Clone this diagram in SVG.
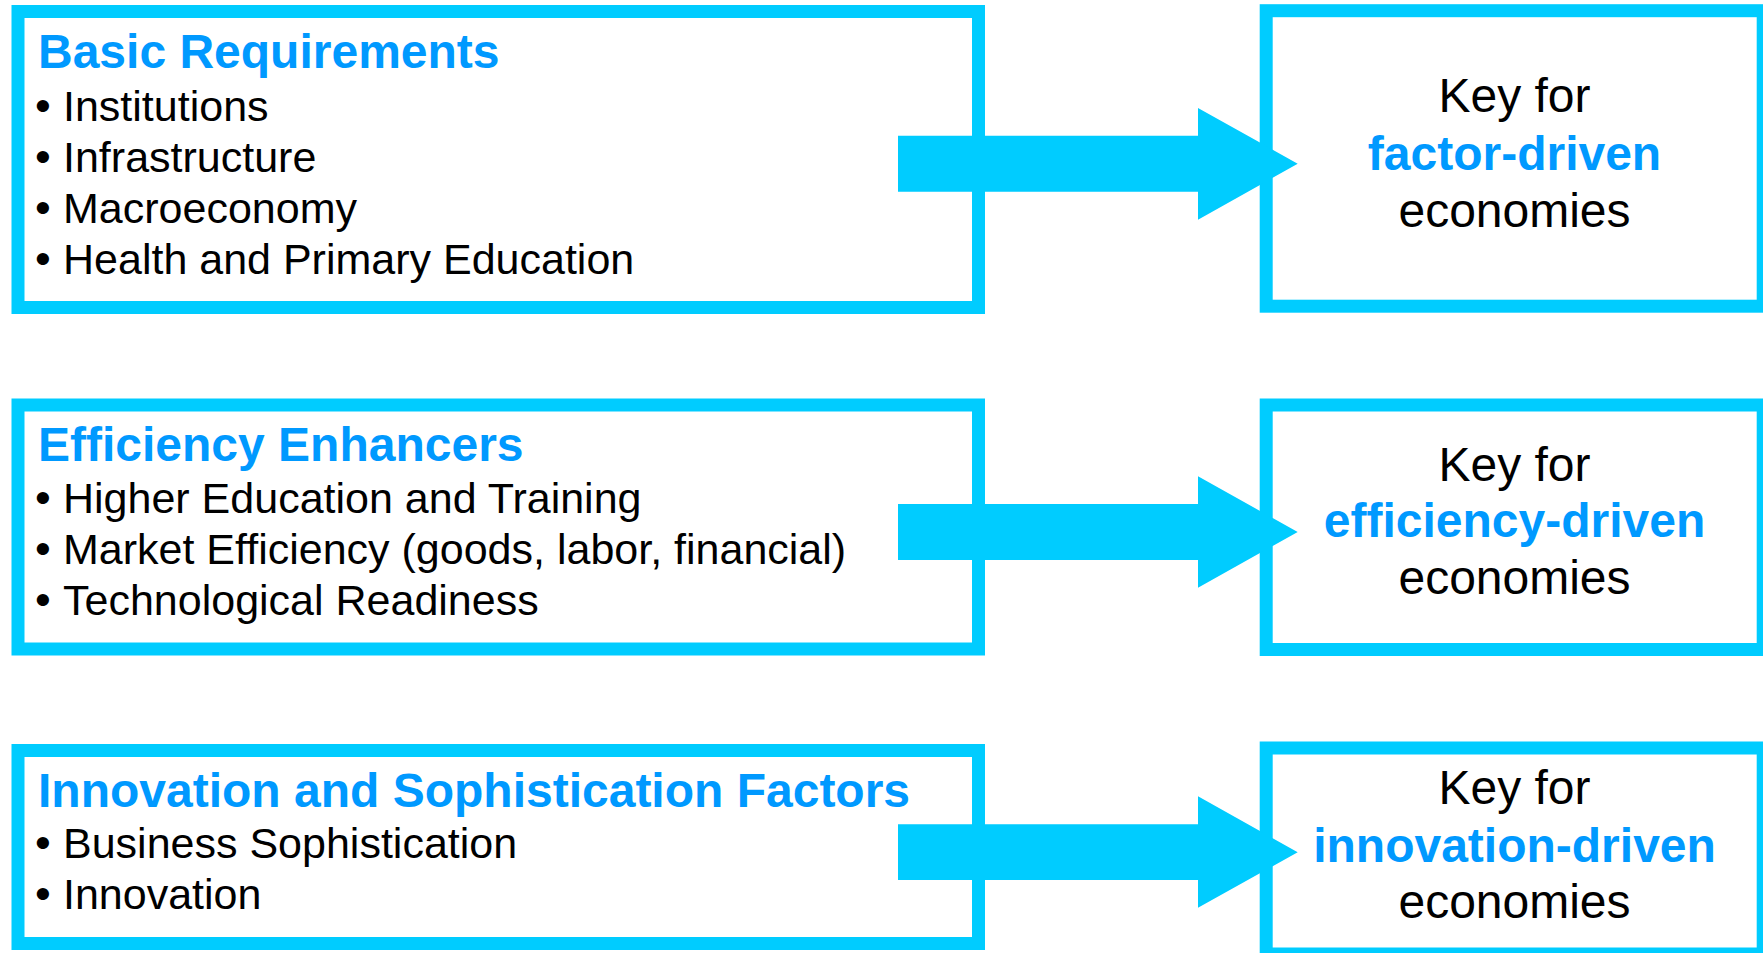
<svg xmlns="http://www.w3.org/2000/svg" width="1763" height="953" viewBox="0 0 1763 953">
<style>
  .box { fill: #ffffff; stroke: #00ccff; stroke-width: 13; }
  .arrow { fill: #00ccff; stroke: none; }
  .title { font-family: "Liberation Sans", Arial, sans-serif; font-weight: bold; font-size: 48px; fill: #0099ff; }
  .item { font-family: "Liberation Sans", Arial, sans-serif; font-size: 43px; fill: #000000; }
  .b { font-size: 45px; }
  .key { font-family: "Liberation Sans", Arial, sans-serif; font-size: 48px; fill: #000000; text-anchor: middle; }
  .keyb { font-family: "Liberation Sans", Arial, sans-serif; font-size: 48px; font-weight: bold; fill: #0099ff; text-anchor: middle; }
</style>

<g id="basic-requirements">
  <rect class="box" x="18" y="11.5" width="960.5" height="296"/>
  <text class="title" x="38" y="67.7">Basic Requirements</text>
  <text class="item" y="121"><tspan class="b" x="35">•</tspan><tspan x="63">Institutions</tspan></text>
  <text class="item" y="172.3"><tspan class="b" x="35">•</tspan><tspan x="63">Infrastructure</tspan></text>
  <text class="item" y="223.3"><tspan class="b" x="35">•</tspan><tspan x="63">Macroeconomy</tspan></text>
  <text class="item" y="274.3"><tspan class="b" x="35">•</tspan><tspan x="63">Health and Primary Education</tspan></text>
</g>

<g id="efficiency-enhancers">
  <rect class="box" x="18" y="405" width="960.5" height="244"/>
  <text class="title" x="38" y="461">Efficiency Enhancers</text>
  <text class="item" y="513.3"><tspan class="b" x="35">•</tspan><tspan x="63">Higher Education and Training</tspan></text>
  <text class="item" y="564.3"><tspan class="b" x="35">•</tspan><tspan x="63">Market Efficiency (goods, labor, financial)</tspan></text>
  <text class="item" y="615"><tspan class="b" x="35">•</tspan><tspan x="63">Technological Readiness</tspan></text>
</g>

<g id="innovation-factors">
  <rect class="box" x="18" y="750.5" width="960.5" height="193"/>
  <text class="title" x="38" y="806.5">Innovation and Sophistication Factors</text>
  <text class="item" y="858.3"><tspan class="b" x="35">•</tspan><tspan x="63">Business Sophistication</tspan></text>
  <text class="item" y="909"><tspan class="b" x="35">•</tspan><tspan x="63">Innovation</tspan></text>
</g>

<g id="factor-driven">
  <rect class="box" x="1266.2" y="10.7" width="497" height="295.5"/>
  <text class="key" x="1514.5" y="111.7">Key for</text>
  <text class="keyb" x="1514.5" y="170">factor-driven</text>
  <text class="key" x="1514.5" y="226.7">economies</text>
</g>

<g id="efficiency-driven">
  <rect class="box" x="1266.2" y="405" width="497" height="244.5"/>
  <text class="key" x="1514.5" y="480.7">Key for</text>
  <text class="keyb" x="1514.5" y="536.7">efficiency-driven</text>
  <text class="key" x="1514.5" y="594">economies</text>
</g>

<g id="innovation-driven">
  <rect class="box" x="1266.2" y="748" width="497" height="206"/>
  <text class="key" x="1514.5" y="804">Key for</text>
  <text class="keyb" x="1514.5" y="861.7">innovation-driven</text>
  <text class="key" x="1514.5" y="918.3">economies</text>
</g>

<g id="connectors">
  <polygon class="arrow" points="898,135.7 1198,135.7 1198,108 1297.7,163.7 1198,219.7 1198,191.7 898,191.7"/>
  <polygon class="arrow" points="898,504 1198,504 1198,476.3 1297.7,532 1198,587.7 1198,560 898,560"/>
  <polygon class="arrow" points="898,824.3 1198,824.3 1198,796.3 1297.7,852.3 1198,907.7 1198,880 898,880"/>
</g>
</svg>
